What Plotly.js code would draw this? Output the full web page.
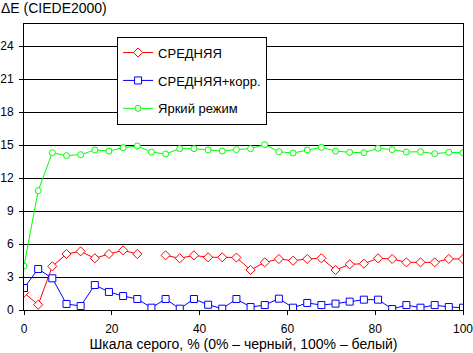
<!DOCTYPE html>
<html><head><meta charset="utf-8">
<script src="https://cdn.plot.ly/plotly-3.0.1.min.js"></script>
<style>html,body{margin:0;padding:0;background:#fff}#c{width:473px;height:353px}</style>
</head><body><div id="c"></div>
<script>
const grayLevels = [0,3.23,6.45,9.68,12.9,16.13,19.35,22.58,25.81,29.03,32.26,35.48,38.71,41.94,45.16,48.39,51.61,54.84,58.06,61.29,64.52,67.74,70.97,74.19,77.42,80.65,83.87,87.1,90.32,93.55,96.77,100];
const srednyaya = [1.57,0.48,3.97,5.09,5.33,4.7,5.09,5.42,5.09,null,4.97,4.7,4.97,4.79,4.79,4.77,3.64,4.33,4.64,4.48,4.64,4.7,3.64,4.15,4.21,4.7,4.64,4.33,4.33,4.33,4.64,4.64];
const srednyayaKorr = [2.0,3.73,2.88,0.55,0.36,2.27,1.64,1.27,1.0,0.21,1.0,0.12,1.0,0.48,0.12,1.0,0.27,0.45,1.03,0.21,0.64,0.45,0.58,0.76,0.94,0.94,0.09,0.45,0.21,0.45,0.27,0.21];
const yarkiy = [4.0,10.85,14.3,14.03,14.12,14.55,14.45,14.76,14.91,14.36,14.18,14.67,14.67,14.55,14.45,14.58,14.67,15.03,14.39,14.27,14.55,14.79,14.45,14.33,14.3,14.7,14.58,14.36,14.39,14.21,14.33,14.3];
const seriesNames = ['СРЕДНЯЯ','СРЕДНЯЯ+корр.','Яркий режим'];
const yTicks = [0,3,6,9,12,15,18,21,24];
const xTicks = [0,20,40,60,80,100];

const fam = 'Liberation Sans, Arial, sans-serif';
const tickFont = {family:fam, size:12, color:'#000'};
const titleFont = {family:fam, size:14, color:'#000'};
const legendFont = {family:fam, size:13, color:'#000'};
function tr(y, name, color, symbol, size, g){
  return {x:grayLevels, y:y, name:name, type:'scatter', mode:'lines+markers', connectgaps:false,
    legendgroup:g,
    line:{color:color, width:1},
    marker:{symbol:symbol, size:size, color:'#fff', line:{color:color, width:1}}};
}
const data = [
  tr(srednyaya, seriesNames[0], '#ff0000', 'diamond', 7, 'a'),
  tr(srednyayaKorr, seriesNames[1], '#0000ff', 'square', 7, 'b'),
  tr(yarkiy, seriesNames[2], '#00ff00', 'circle', 6, 'c')
];
const layout = {
  width:473, height:353,
  margin:{l:24, r:10, t:24, b:43},
  paper_bgcolor:'#fff', plot_bgcolor:'#fff',
  font:tickFont,
  showlegend:true,
  title:{text:'ΔE (CIEDE2000)', x:0.002, xref:'container', xanchor:'left', y:0.99, yref:'container', yanchor:'top', font:titleFont},
  xaxis:{range:[0,100], tickvals:xTicks, ticktext:xTicks.map(String), showgrid:false, zeroline:false,
    showline:true, linecolor:'#000', linewidth:1, mirror:true, ticks:'outside', ticklen:4, tickcolor:'#000',
    ticklabelstandoff:4, ticklabeloverflow:'allow', tickfont:tickFont,
    title:{text:'Шкала серого, % (0% – черный, 100% – белый)', font:titleFont, standoff:2}},
  yaxis:{range:[0,26], tickvals:yTicks, ticktext:yTicks.map(String), showgrid:true, gridcolor:'#000', gridwidth:1,
    zeroline:false, showline:true, linecolor:'#000', linewidth:1, mirror:true, ticks:'outside', ticklen:4, tickcolor:'#000',
    ticklabelstandoff:3, ticklabeloverflow:'allow', tickfont:tickFont},
  legend:{x:0.212, y:0.956, xanchor:'left', yanchor:'top', bgcolor:'#fff', bordercolor:'#000', borderwidth:1,
    font:legendFont, traceorder:'grouped', tracegroupgap:8}
};
Plotly.newPlot('c', data, layout, {displayModeBar:false, staticPlot:true});
</script></body></html>
